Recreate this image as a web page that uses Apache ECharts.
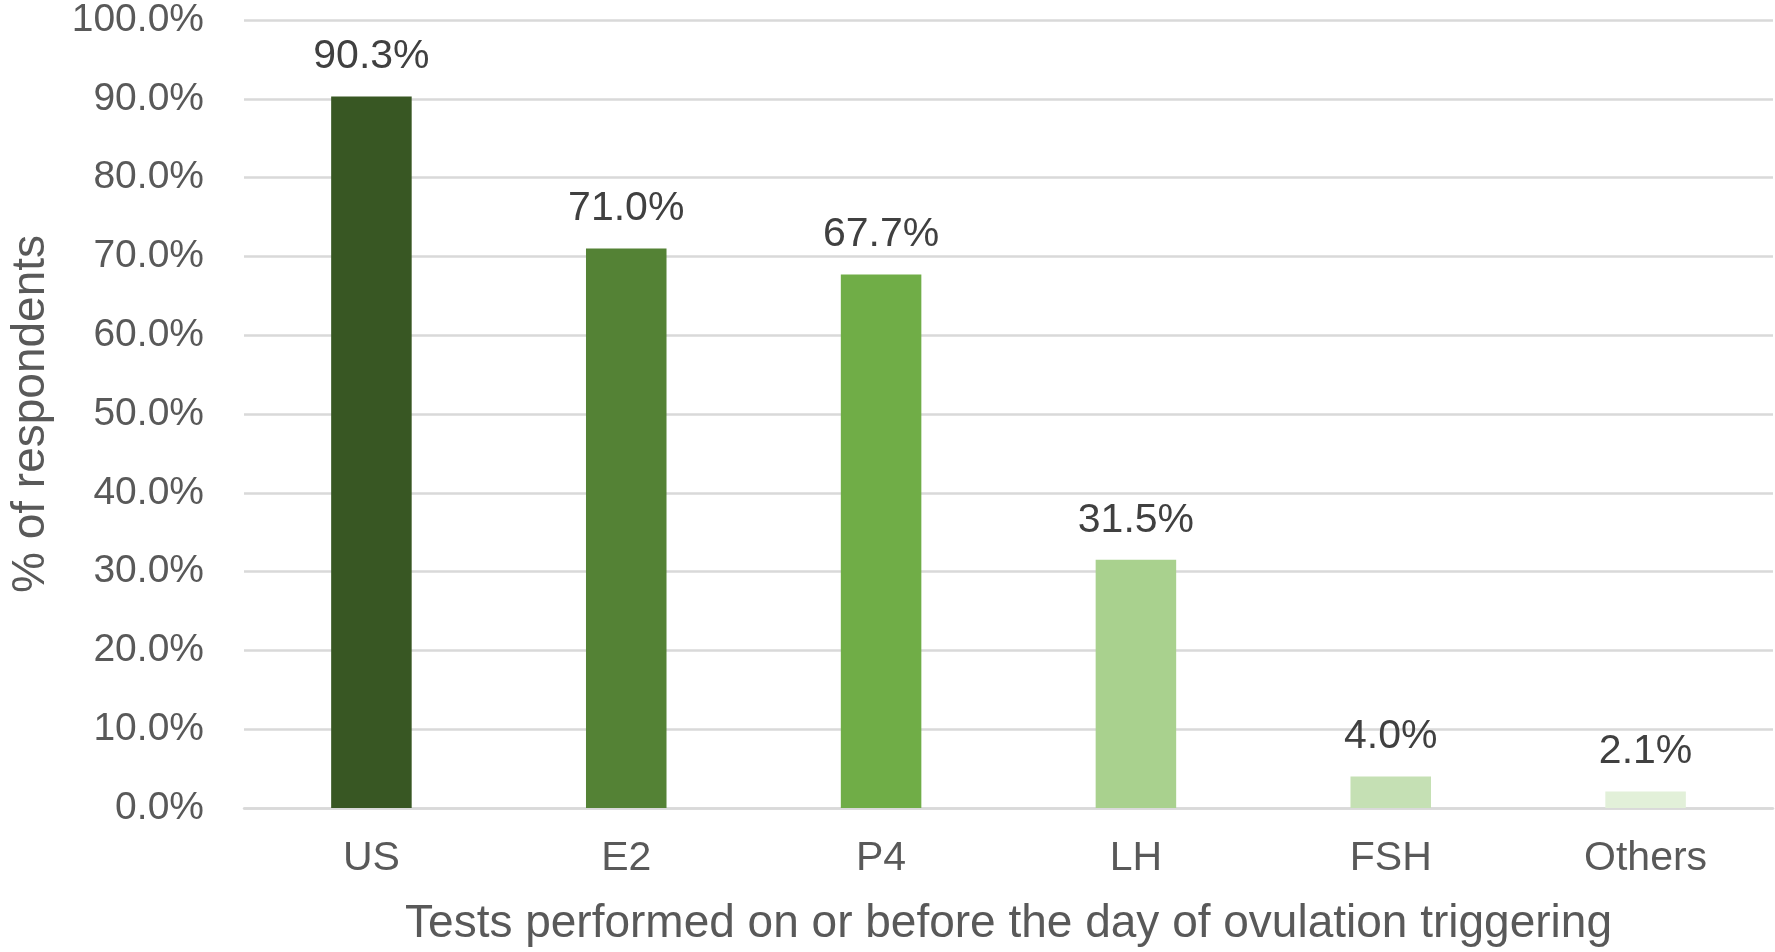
<!DOCTYPE html>
<html>
<head>
<meta charset="utf-8">
<script src="https://cdn.jsdelivr.net/npm/echarts@6/dist/echarts.min.js"></script>
<style>html,body{margin:0;padding:0;background:#fff;}#c{width:1775px;height:952px;}</style>
</head>
<body>
<div id="c"></div>
<script>
const categories = ['US', 'E2', 'P4', 'LH', 'FSH', 'Others'];
const values = [90.3, 71.0, 67.7, 31.5, 4.0, 2.1];
const barColors = ['#385723', '#548235', '#70AD47', '#A9D18E', '#C5E0B4', '#E2F0D9'];
const yTitle = '% of respondents';
const xTitle = 'Tests performed on or before the day of ovulation triggering';

const FONT = '"Liberation Sans", Arial, sans-serif';
const chart = echarts.init(document.getElementById('c'));
chart.setOption({
  animation: false,
  grid: { left: 236, right: 2, top: 20, bottom: 144, containLabel: false },
  xAxis: {
    type: 'category',
    data: categories,
    axisLine: { show: true, lineStyle: { color: '#D9D9D9', width: 2.5 } },
    axisTick: { show: false },
    axisLabel: { color: '#595959', fontSize: 41, fontFamily: FONT, margin: 30 },
    name: xTitle,
    nameLocation: 'middle',
    nameGap: 93,
    nameTextStyle: { color: '#595959', fontSize: 46, fontFamily: FONT }
  },
  yAxis: {
    type: 'value',
    min: 0, max: 100, interval: 10,
    axisLine: { show: false },
    axisTick: { show: false },
    splitLine: { lineStyle: { color: '#D9D9D9', width: 2.5 } },
    axisLabel: { color: '#595959', fontSize: 39, fontFamily: FONT, margin: 40,
      formatter: v => v.toFixed(1) + '%' },
    name: yTitle,
    nameLocation: 'middle',
    nameRotate: 90,
    nameGap: 190,
    nameTextStyle: { color: '#595959', fontSize: 46, fontFamily: FONT }
  },
  series: [{
    type: 'bar',
    data: values.map((v, i) => ({ value: v, itemStyle: { color: barColors[i] } })),
    barWidth: '31.6%',
    label: {
      show: true, position: 'top', distance: 19,
      color: '#404040', fontSize: 41, fontFamily: FONT,
      formatter: p => p.value.toFixed(1) + '%'
    }
  }]
});
</script>
</body>
</html>
